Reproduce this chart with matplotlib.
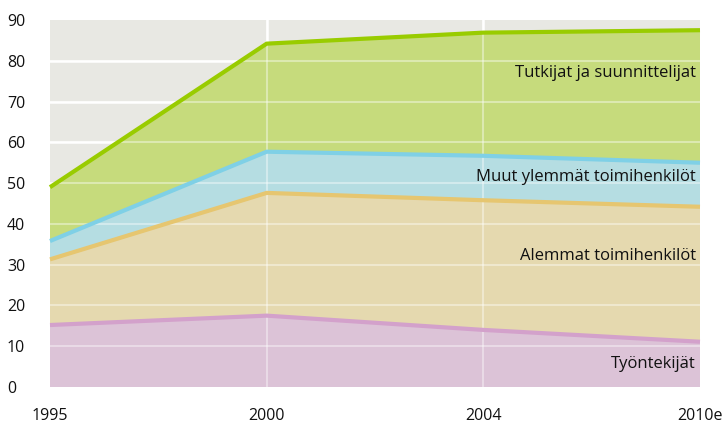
import matplotlib.pyplot as plt
import numpy as np

plt.rcParams['font.family'] = ['Open Sans', 'DejaVu Sans']

# Data (stacked layers)
years = ["1995", "2000", "2004", "2010e"]
tyontekijat = [15.2, 17.5, 14.0, 11.1]
alemmat = [16.1, 30.1, 31.8, 33.1]
muut_ylemmat = [4.5, 10.1, 10.9, 10.8]
tutkijat = [13.2, 26.5, 30.2, 32.5]

labels = ["Työntekijät", "Alemmat toimihenkilöt",
          "Muut ylemmät toimihenkilöt", "Tutkijat ja suunnittelijat"]
fill_colors = ["#dcc3d7", "#e5d9af", "#b5dde2", "#c6db7c"]
line_colors = ["#d3a1cb", "#e6c670", "#7fd0e6", "#99cc00"]

x = np.arange(len(years))
layers = np.array([tyontekijat, alemmat, muut_ylemmat, tutkijat])
tops = np.cumsum(layers, axis=0)

fig = plt.figure(figsize=(7.25, 4.28), dpi=100)
ax = fig.add_axes([50 / 725, 41 / 428, 650 / 725, 367 / 428])
ax.set_facecolor("#e8e8e3")

# solid white grid on the gray background
for v in range(10, 90, 10):
    ax.axhline(v, color="white", lw=1.8, zorder=0.5)
for xi in x[1:-1]:
    ax.axvline(xi, color="white", lw=1.8, zorder=0.5)

ax.stackplot(x, layers, colors=fill_colors, zorder=1)

# grid showing faintly through the fills
for v in range(10, 90, 10):
    ax.axhline(v, color="white", lw=1.5, alpha=0.4, zorder=2)
for xi in x[1:-1]:
    ax.axvline(xi, color="white", lw=1.5, alpha=0.4, zorder=2)

for top, c in zip(tops, line_colors):
    ax.plot(x, top, color=c, lw=3, solid_capstyle="butt", zorder=3, clip_on=False)

# in-chart labels
label_y = [5.6, 32.2, 51.5, 77]
for lab, yy in zip(labels, label_y):
    ax.text(x[-1] - 0.02, yy, lab, ha="right", va="center", fontsize=12,
            color="#111111", zorder=4)

ax.set_xlim(x[0], x[-1])
ax.set_ylim(0, 90)
ax.set_yticks(range(0, 100, 10))
ax.set_xticks(x)
ax.set_xticklabels(years)
ax.tick_params(axis="both", length=0, labelsize=11.5, colors="#111111")
ax.tick_params(axis="x", pad=15)
ax.tick_params(axis="y", pad=31)
for t in ax.get_yticklabels():
    t.set_horizontalalignment("left")
for s in ax.spines.values():
    s.set_visible(False)

fig.savefig("out.png", dpi=100)
